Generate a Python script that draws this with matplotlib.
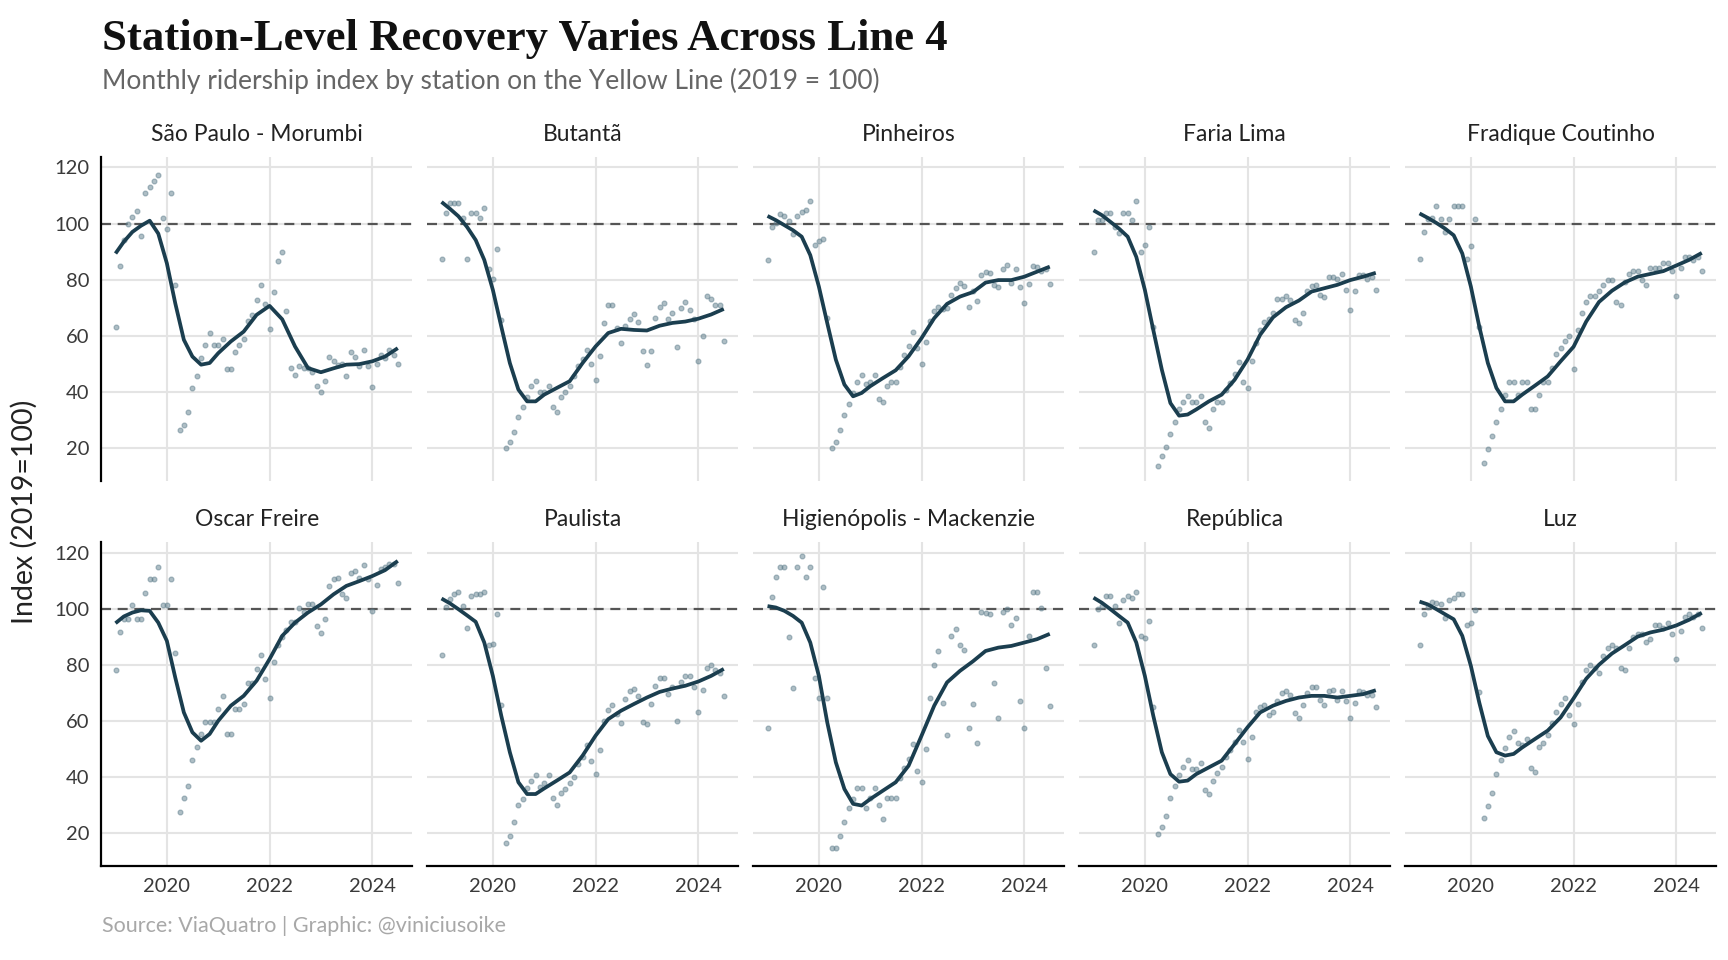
import numpy as np
import pandas as pd
import matplotlib
matplotlib.use("Agg")
import matplotlib.pyplot as plt

# ---------------- data ----------------
stations = ["São Paulo - Morumbi", "Butantã", "Pinheiros", "Faria Lima", "Fradique Coutinho",
            "Oscar Freire", "Paulista", "Higienópolis - Mackenzie", "República", "Luz"]

months = pd.date_range("2019-01-01", periods=67, freq="MS")

sao_paulo_morumbi = [63, 84.8, 94, 100, 102.3, 104.4, 95.5, 110.8, 112.9, 115.1, 117.3, 102.1, 97.9, 110.8, 78.2,
                     26.1, 28.2, 32.6, 41.3, 45.7, 52.1, 56.5, 60.9, 56.5, 56.5, 58.7, 47.9, 47.9, 54.3, 56.5,
                     58.7, 65.2, 67.4, 72.8, 78.2, 71.3, 62.3, 75.7, 86.7, 89.7, 68.8, 48.4, 45.8, 49, 48.4,
                     48.4, 47, 41.9, 39.7, 43.9, 52.4, 50.9, 49.5, 49.9, 45.7, 54.1, 52.4, 49, 54.9, 49,
                     41.8, 49.7, 53, 52, 55, 53, 50]
butanta = [87.4, 103.8, 107.5, 107.5, 107.5, 101.9, 87.4, 103.8, 103.8, 101.9, 105.6, 83.9, 80.1, 91, 65.6,
           19.9, 21.9, 25.5, 31, 34.6, 38, 41.9, 43.8, 40, 40, 41.9, 34.6, 32.7, 38.2, 40,
           41.9, 45.5, 49, 51.6, 54.8, 49.7, 44.3, 52.7, 64.5, 70.8, 70.8, 62.6, 57.3, 63.5, 66,
           67.7, 65, 54.4, 49.5, 54.4, 66.3, 70.3, 71.6, 65.8, 68, 56, 70, 72, 69, 66,
           51, 60, 74, 73, 71, 71, 58]
pinheiros = [86.8, 98.6, 100.2, 103.3, 102.6, 100.9, 96.2, 102.6, 104.2, 105, 108.1, 92.3, 93.8, 94.5, 66.2,
             19.9, 22.1, 26.1, 31.6, 35.6, 39.5, 43.4, 45.8, 42.6, 43.4, 45.8, 37.2, 36.3, 41.9, 43.4,
             43.4, 48.9, 52.9, 56.1, 61.3, 55.5, 49.7, 57.6, 65.2, 68.8, 70.1, 69.5, 69.8, 74.3, 76.9,
             78.6, 77.7, 70.1, 76, 72.2, 81.5, 82.7, 82.2, 77.9, 77.5, 83.7, 85.2, 78.9, 83.7, 77.2,
             71.6, 78.3, 84.7, 84.5, 82.9, 83.6, 78.3]
faria_lima = [89.9, 101.2, 101.2, 103.6, 103.6, 98.8, 96.7, 103.6, 103.6, 101.2, 107.9, 89.9, 92.3, 98.8, 63,
              13.5, 17, 20.3, 24.8, 29.3, 33.8, 36.2, 38.3, 36.2, 36.2, 38.3, 29.3, 27, 33.8, 36.2,
              36.2, 40.7, 43.1, 46.4, 50.4, 43.4, 41.3, 50.8, 57.3, 62, 64.8, 66, 68.2, 73.1, 73.1,
              74.1, 72.6, 65.5, 64.5, 68.2, 75.8, 77.7, 78.1, 74.4, 73.7, 81, 81, 80.2, 82, 76.2,
              69.2, 75.9, 81.7, 81.7, 80.2, 81, 76.2]
fradique_coutinho = [87.2, 96.8, 101.7, 102, 106.4, 101.7, 96.8, 101.7, 106.4, 106.4, 106.4, 87.2, 92, 101.7, 63.2,
                     14.5, 19.6, 24.3, 29.1, 33.9, 38.8, 43.5, 43.5, 38.8, 43.5, 43.5, 33.9, 33.9, 38.8, 43.5,
                     43.5, 48.4, 53.3, 55.5, 58, 60, 48, 62, 68, 72, 74, 74, 76, 78, 80,
                     80, 72, 71, 79, 82, 83, 83, 80, 78, 84, 84, 84, 86, 86, 83,
                     74, 84, 88, 88, 87, 88, 83]
oscar_freire = [78.2, 91.8, 96.4, 96.4, 101.2, 96.4, 96.4, 105.7, 110.4, 110.4, 114.9, 101.2, 101.2, 110.4, 84,
                27.5, 32.4, 36.8, 46, 50.5, 55.2, 59.7, 59.7, 59.7, 64.3, 68.9, 55.2, 55.2, 64.3, 64.3,
                66, 73.5, 73.5, 78.6, 83.6, 74.9, 68, 81.1, 87, 90, 92.5, 95.3, 95.3, 100.2, 98.8,
                101.7, 101.7, 93.7, 91.3, 96.2, 108.1, 110.4, 110.9, 105.1, 103.9, 112.8, 113.4, 110.9, 115.5, 110.4,
                99.1, 108.3, 114, 115, 116, 116, 109]
paulista = [83.3, 100.4, 103.3, 105.3, 106, 101, 93.2, 104.5, 105.3, 105.3, 106, 87, 87.5, 98.2, 65.5,
            16.5, 19, 24, 30, 32, 36, 38.4, 40.7, 36.3, 37.7, 40.7, 32.4, 30, 34.2, 35.7,
            37.7, 40, 44.6, 47.2, 51.5, 45.8, 41, 49.7, 60, 63.7, 65.8, 62.3, 59.4, 67.7, 70.7,
            71.3, 68.7, 59.7, 58.7, 66.1, 72.5, 75.2, 75.2, 69.5, 72, 60, 74, 76, 76, 72,
            63, 71, 79, 80, 78, 77, 69]
higienopolis_mackenzie = [57.4, 104.2, 111.4, 114.9, 114.9, 89.8, 71.8, 114.9, 118.6, 111.4, 114.9, 75.4, 68.2, 107.7, 68.2,
                          14.5, 14.5, 19, 24, 29, 32, 36, 35.9, 29, 32.4, 35.9, 30, 25, 32.4, 32.4,
                          32.4, 39.5, 43.1, 46.4, 51.6, 42, 38.1, 49.8, 68.2, 79.8, 85, 66.5, 54.8, 90.3, 92.7,
                          87, 85.3, 57.4, 66, 52, 98.9, 98.6, 98, 73.5, 60.9, 98.8, 100, 94.3, 96.8, 66.9,
                          57.3, 90.3, 106, 106, 100.1, 78.9, 65.2]
republica = [87, 99.8, 101, 104.5, 104.5, 101, 95, 103.1, 104.5, 103.8, 105.9, 90.3, 89.6, 95.6, 65.1,
             19.6, 22, 26, 32.4, 36.7, 40.7, 43.4, 46, 42.8, 42.8, 44.8, 35.4, 33.9, 38.7, 41.3,
             43.7, 47, 49.6, 52.3, 56.8, 52.3, 46.4, 54.3, 63.3, 64.9, 65.7, 62, 63.2, 67.1, 69.8,
             70.7, 69.3, 62.8, 61.1, 65.6, 69.8, 72, 72, 67.5, 65.6, 70.7, 71.1, 67.5, 70.7, 66.9,
             61.1, 66.2, 70.7, 70.1, 69.3, 69.3, 64.9]
luz = [87.2, 98.2, 100.5, 102.4, 101.9, 101.7, 96.8, 103, 103.9, 105.1, 105.1, 94.1, 94.8, 99.6, 70.1,
       25.5, 29.5, 34.3, 41.2, 46, 50.2, 54.3, 56.3, 52.2, 51.4, 53.5, 43.3, 41.9, 50.8, 52.2,
       54.9, 59.1, 63.2, 66.1, 68, 62, 59, 66, 74, 78, 80, 79, 77, 83, 86,
       87, 86, 79, 78, 86, 90, 91, 91, 88, 89, 94, 94, 93, 95, 91,
       82, 92, 97, 98, 97, 98, 93]

# smoothed trend, read at these month offsets from Jan 2019
trend_month_idx = [0, 2, 4, 6, 8, 10, 12, 14, 16, 18, 20, 22, 24, 27, 30, 33, 36, 39, 42, 45, 48, 51, 54, 57, 60, 63, 66]
trend_sao_paulo_morumbi = [89.3, 93.5, 97.0, 99.2, 101.0, 96.4, 85.8, 71.5, 58.5, 52.5, 49.6, 50.2, 53.7, 57.9, 61.4,
                           67.4, 70.6, 65.8, 56.1, 48.4, 46.9, 48.3, 49.6, 49.8, 50.8, 52.5, 55.5]
trend_butanta = [107.7, 105.3, 102.6, 98.8, 94.1, 87, 76.3, 63.2, 50.2, 40.7, 36.5, 36.5, 38.9, 41.3, 43.7,
                 50.2, 56.1, 60.9, 62.4, 62, 61.8, 63.5, 64.5, 65, 66, 67.5, 69.5]
trend_pinheiros = [102.7, 101.2, 99.4, 97.6, 95.3, 88.7, 77.5, 64.4, 51.4, 42.5, 38.3, 39.5, 41.9, 44.8, 47.6,
                   52.6, 59.1, 66.2, 71.3, 73.9, 75.5, 78.9, 79.8, 79.8, 81, 82.8, 84.6]
trend_faria_lima = [104.7, 103, 100.6, 98.2, 95.3, 88.1, 76.3, 62, 47.8, 35.9, 31.4, 31.8, 33.6, 36.5, 38.9,
                    44.2, 51.4, 60.3, 66.5, 70.1, 72.5, 75.7, 76.9, 78.1, 79.8, 81, 82.4]
trend_fradique_coutinho = [103.6, 102, 100.2, 98.2, 95.8, 89.3, 77.5, 63.2, 50.2, 41.3, 36.5, 36.5, 38.9, 42.1, 45.4,
                           50.8, 56, 65, 72, 76, 79, 81, 82, 83, 85, 87, 89.5]
trend_oscar_freire = [94.8, 97.2, 98.6, 99.4, 99.2, 95, 88.5, 75.4, 63, 55.9, 52.9, 55.3, 60, 65.4, 68.9,
                      74.3, 82, 90.3, 95, 98.6, 101.5, 105.1, 108.1, 109.8, 111.6, 113.7, 117]
trend_paulista = [103.6, 101.9, 99.8, 97.6, 95.3, 87.9, 76, 61.8, 48.8, 38.1, 33.9, 33.9, 35.9, 38.7, 41.6,
                  47.6, 54.7, 60.6, 63.6, 66, 68.3, 70.3, 71.5, 72.5, 74, 76, 78.5]
trend_higienopolis_mackenzie = [100.9, 100.4, 99.2, 97.4, 95, 87.9, 76, 59.4, 45.2, 35.7, 30.4, 29.8, 32.1, 35.1, 38.1,
                                44, 54.7, 65.4, 73.7, 77.8, 81.2, 84.9, 86.1, 86.7, 87.9, 89.1, 91]
trend_republica = [103.9, 102.1, 99.8, 97.4, 95, 87.9, 76, 61.8, 48.8, 41, 38.3, 38.7, 41, 43.4, 45.8,
                   51.7, 57.7, 63, 65.4, 67.1, 68.3, 68.9, 68.9, 68.3, 68.9, 69.5, 70.9]
trend_luz = [102.5, 101.5, 99.8, 98, 96.2, 90.3, 79.6, 66.5, 54.6, 48.8, 47.6, 48.2, 50.5, 53.5, 56.5,
             61.2, 68, 75, 80, 84, 87, 90, 91.5, 92.5, 94, 96, 98.5]

points = [sao_paulo_morumbi, butanta, pinheiros, faria_lima, fradique_coutinho,
          oscar_freire, paulista, higienopolis_mackenzie, republica, luz]
trends = [trend_sao_paulo_morumbi, trend_butanta, trend_pinheiros, trend_faria_lima, trend_fradique_coutinho,
          trend_oscar_freire, trend_paulista, trend_higienopolis_mackenzie, trend_republica, trend_luz]

x_ticks = [2020, 2022, 2024]
y_ticks = [20, 40, 60, 80, 100, 120]
baseline = 100

title = "Station-Level Recovery Varies Across Line 4"
subtitle = "Monthly ridership index by station on the Yellow Line (2019 = 100)"
caption = "Source: ViaQuatro | Graphic: @viniciusoike"
ylabel = "Index (2019=100)"

# ---------------- style ----------------
SANS = ["Lato", "DejaVu Sans"]
LINE_COL = "#1b3e4f"
PT_COL = "#5f7e8c"
GRID_COL = "#e4e4e4"

def to_year(d):
    d = pd.DatetimeIndex(d)
    return d.year + (d.dayofyear - 1) / np.where(d.is_leap_year, 366, 365)

xs = to_year(months)
x_lo, x_hi = xs.min(), xs.max()
xr = x_hi - x_lo
all_vals = np.concatenate([np.asarray(p, float) for p in points])
y_lo, y_hi = all_vals.min(), all_vals.max()
yr = y_hi - y_lo

W, H = 1728, 960
fig = plt.figure(figsize=(W / 100, H / 100), dpi=100)

left_px, panel_w, gap_w = 101.4, 310.5, 15.5
rows_px = [(156.7, 480.5), (541.7, 866.0)]

for i, name in enumerate(stations):
    r, c = divmod(i, 5)
    x0 = left_px + c * (panel_w + gap_w)
    top, bot = rows_px[r]
    ax = fig.add_axes([x0 / W, 1 - bot / H, panel_w / W, (bot - top) / H])
    ax.set_xlim(x_lo - 0.05 * xr, x_hi + 0.05 * xr)
    ax.set_ylim(y_lo - 0.05 * yr, y_hi + 0.05 * yr)
    ax.set_xticks(x_ticks)
    ax.set_yticks(y_ticks)
    ax.grid(True, color=GRID_COL, lw=1.5, zorder=0)
    ax.set_axisbelow(True)
    for s in ax.spines.values():
        s.set_visible(False)
    ax.tick_params(length=0, labelsize=14.5, labelcolor="#3a3a3a", pad=8.5)
    for lab in ax.get_xticklabels() + ax.get_yticklabels():
        lab.set_family(SANS)
    if c == 0:
        ax.spines["left"].set_visible(True)
        ax.spines["left"].set_linewidth(1.6)
        ax.spines["left"].set_color("black")
    else:
        ax.tick_params(labelleft=False)
    if r == 1:
        ax.spines["bottom"].set_visible(True)
        ax.spines["bottom"].set_linewidth(1.6)
        ax.spines["bottom"].set_color("black")
    else:
        ax.tick_params(labelbottom=False)

    ax.axhline(baseline, color="#555555", lw=1.6, dashes=(4.5, 3.0), zorder=2)
    ax.scatter(xs, points[i], s=12, facecolor=PT_COL, edgecolor=PT_COL, linewidth=0.9,
               alpha=0.5, zorder=3)
    tx = xs[np.asarray(trend_month_idx)]
    ax.plot(tx, trends[i], color=LINE_COL, lw=2.7, zorder=4, solid_capstyle="butt",
            solid_joinstyle="round")
    ax.text(0.5, 1 + 22 / (bot - top), name, transform=ax.transAxes, ha="center", va="center",
            fontsize=16.5, family=SANS, color="#222222")

fig.text(102.5 / W, 1 - 50 / H, title, ha="left", va="baseline", fontsize=32.2,
         fontweight="bold", family=["Liberation Serif", "DejaVu Serif"], color="#111111")
fig.text(102.5 / W, 1 - 80.5 / H, subtitle, ha="left", va="center", fontsize=19,
         family=SANS, color="#666666")
fig.text(102.5 / W, 1 - 925.7 / H, caption, ha="left", va="center", fontsize=15.5,
         family=SANS, color="#a8a8a8")
fig.text(24 / W, 1 - 512 / H, ylabel, ha="center", va="center", rotation=90, fontsize=20.5,
         family=SANS, color="#222222")

fig.savefig("out.png", dpi=100, facecolor="white")
